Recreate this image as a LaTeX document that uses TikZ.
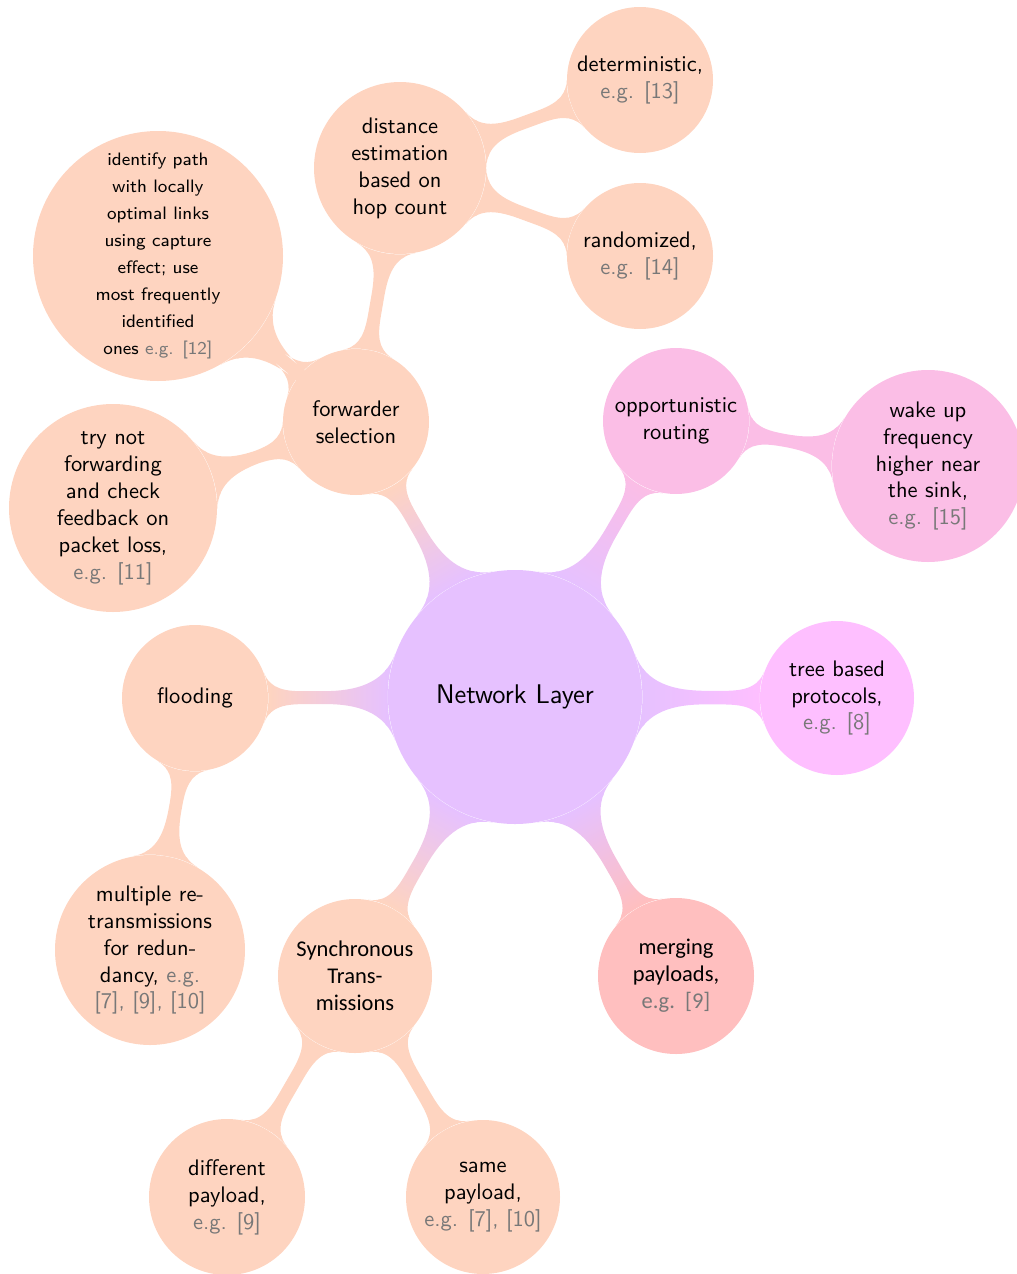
\documentclass[tikz,border=0pt]{standalone}
\usepackage{fontspec}
\newfontfamily\altfont{Carlito}
\usetikzlibrary{mindmap,backgrounds}

% concept colours
\definecolor{rootcol}{RGB}{230,193,255}
\definecolor{peach}{RGB}{254,212,192}
\definecolor{pinkcol}{RGB}{251,190,230}
\definecolor{magcol}{RGB}{254,191,255}
\definecolor{redcol}{RGB}{255,191,191}
\definecolor{refgray}{RGB}{120,120,120}

% grey reference hint
\newcommand{\refs}[1]{{\color{refgray}#1}}

\begin{document}
\begin{tikzpicture}[x=0.44457pt,y=-0.44457pt,
  bubble/.style={circle, fill=#1, draw=none, inner sep=0pt, align=center,
                 text=black, font=\sffamily},
  dia/.style={minimum size=#1*0.44457pt},
  bar/.style args={#1/#2}{circle connection bar switch color=from (#1) to (#2)}
]
\useasboundingbox (0,0) rectangle (1017,1274);

% central concept
\node[bubble=rootcol, dia=254, font=\sffamily\large] (root) at (515,697) {Network Layer};

% first level
\node[bubble=peach,   dia=146] (flood) at (195,698) {flooding};
\node[bubble=magcol,  dia=154] (tree)  at (837,698) {tree based\\protocols,\\\refs{e.g. [8]}};
\node[bubble=peach,   dia=146] (fwd)   at (356,422) {forwarder\\selection};
\node[bubble=pinkcol, dia=146] (opp)   at (676,421) {opportunistic\\routing};
\node[bubble=peach,   dia=154, font=\altfont\fontsize{10}{12}\selectfont] (sync)  at (355,976) {Synchronous\\Trans-\\missions};
\node[bubble=redcol,  dia=156, font=\altfont\fontsize{10}{12}\selectfont] (merge) at (676,976) {merging\\payloads,\\\refs{e.g.\ \ [9]}};

% second level
\node[bubble=peach, dia=172] (dist) at (400,168) {distance\\estimation\\based on\\hop count};
\node[bubble=peach, dia=250, font=\sffamily\fontsize{8}{12}\selectfont] (ident) at (158,256)
  {identify path\\with locally\\optimal links\\using capture\\effect; use\\most frequently\\identified\\ones \refs{e.g. [12]}};
\node[bubble=peach, dia=208] (trynot) at (113,508) {try not\\forwarding\\and check\\feedback on\\packet loss,\\\refs{e.g. [11]}};
\node[bubble=pinkcol, dia=192] (wake) at (928,466) {wake up\\frequency\\higher near\\the sink,\\\refs{e.g. [15]}};
\node[bubble=peach, dia=190] (multi) at (150,950) {multiple re-\\transmissions\\for redun-\\dancy, \refs{e.g.}\\\refs{[7], [9], [10]}};
\node[bubble=peach, dia=156] (diff) at (227,1197) {different\\payload,\\\refs{e.g. [9]}};
\node[bubble=peach, dia=154] (same) at (483,1197) {same\\payload,\\\refs{e.g. [7], [10]}};

% third level
\node[bubble=peach, dia=146] (det)  at (640,80)  {deterministic,\\\refs{e.g. [13]}};
\node[bubble=peach, dia=146] (rand) at (640,256) {randomized,\\\refs{e.g. [14]}};

% connection bars
\begin{pgfonlayer}{background}
\path (root) to[bar=rootcol/peach]   (fwd);
\path (root) to[bar=rootcol/pinkcol] (opp);
\path (root) to[bar=rootcol/magcol]  (tree);
\path (root) to[bar=rootcol/redcol]  (merge);
\path (root) to[bar=rootcol/peach]   (sync);
\path (root) to[bar=rootcol/peach]   (flood);
\path (fwd)  to[bar=peach/peach]     (dist);
\path (fwd)  to[bar=peach/peach]     (ident);
\path (fwd)  to[bar=peach/peach]     (trynot);
\path (dist) to[bar=peach/peach]     (det);
\path (dist) to[bar=peach/peach]     (rand);
\path (opp)  to[bar=pinkcol/pinkcol] (wake);
\path (flood) to[bar=peach/peach]    (multi);
\path (sync) to[bar=peach/peach]     (diff);
\path (sync) to[bar=peach/peach]     (same);
\end{pgfonlayer}
\end{tikzpicture}
\end{document}
